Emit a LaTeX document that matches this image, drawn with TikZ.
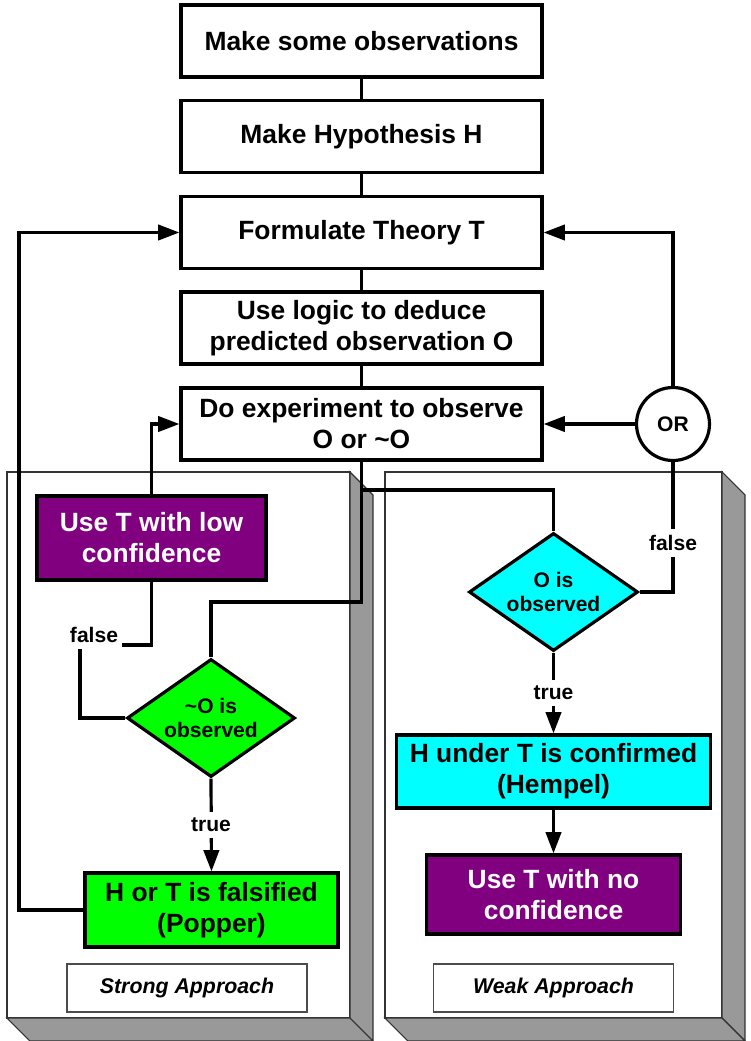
\documentclass[tikz,border=0pt]{standalone}
\usepackage{fontspec}
\setmainfont{Liberation Sans}
\usetikzlibrary{shapes.geometric,arrows.meta}
\definecolor{vio}{HTML}{800080}
\definecolor{aqua}{HTML}{00FFFF}
\definecolor{lime}{HTML}{00FF00}
\definecolor{sidegray}{HTML}{999999}

\begin{document}
\begin{tikzpicture}[x=0.75pt,y=-0.75pt,
  stepbox/.style={draw, line width=2.4pt, rectangle, fill=white, inner sep=0pt, align=center,
    minimum width=270.75pt, minimum height=54pt, font=\fontsize{19.8}{23.3}\selectfont\bfseries},
  decision/.style={draw, line width=2.4pt, diamond, aspect=1.42, inner sep=0pt, align=center,
    minimum width=126pt, minimum height=88.5pt, font=\fontsize{15.8}{18.5}\selectfont\bfseries},
  conn/.style={line width=2.4pt},
  arr/.style={conn, -{Triangle[length=16pt,width=11.5pt]}},
  tag/.style={fill=white, inner xsep=3pt, inner ysep=4.5pt, font=\fontsize{15.8}{18.5}\selectfont\bfseries},
  face/.style={draw=black!80, line width=0.8pt, fill=white},
  sideface/.style={draw=black!80, line width=0.8pt, fill=sidegray},
  caption/.style={draw=black!70, line width=0.8pt, fill=white, inner sep=0pt,
    minimum width=180pt, minimum height=36pt, font=\fontsize{16}{19}\selectfont\bfseries\itshape}
]
\useasboundingbox (0,0) rectangle (750,1041);

% two raised panels
\draw[face] (7,472) rectangle (350,1018);
\draw[sideface] (350,472) -- (373,495) -- (373,1041) -- (350,1018) -- cycle;
\draw[sideface] (7,1018) -- (350,1018) -- (373,1041) -- (30,1041) -- cycle;
\draw[face] (385,472) rectangle (722,1018);
\draw[sideface] (722,472) -- (745,495) -- (745,1041) -- (722,1018) -- cycle;
\draw[sideface] (385,1018) -- (722,1018) -- (745,1041) -- (408,1041) -- cycle;

\node[caption] (strong) at (187,988) {Strong Approach};
\node[caption] (weak) at (553.5,988) {Weak Approach};

% main sequence
\node[stepbox] (obs) at (361.5,41) {Make some observations};
\node[stepbox] (hyp) at (361.5,136.5) {Make Hypothesis H};
\node[stepbox] (theory) at (361.5,232.5) {Formulate Theory T};
\node[stepbox] (logic) at (361.5,328) {Use logic to deduce\\predicted observation O};
\node[stepbox] (exper) at (361.5,424) {Do experiment to observe\\O or \textasciitilde O};

\node[draw, circle, line width=2.4pt, fill=white, minimum size=54.75pt, inner sep=0pt,
  font=\fontsize{15.8}{18.5}\selectfont\bfseries] (or) at (673,424) {OR};

% strong approach
\node[stepbox, fill=vio, text=white, minimum width=171.75pt, minimum height=63pt] (lowconf) at (151.5,538) {Use T with low\\confidence};
\node[decision, fill=lime] (notO) at (211,718) {\textasciitilde O is\\observed};
\node[stepbox, fill=lime, minimum width=189.75pt, minimum height=55.5pt] (falsified) at (211.5,910) {H or T is falsified\\(Popper)};

% weak approach
\node[decision, fill=aqua, minimum width=126.75pt] (Oobs) at (553.5,592) {O is\\observed};
\node[stepbox, fill=aqua, minimum width=235.5pt, minimum height=54.75pt] (confirmed) at (553.5,771.5) {H under T is confirmed\\(Hempel)};
\node[stepbox, fill=vio, text=white, minimum width=190.5pt, minimum height=59.25pt] (noconf) at (553.5,894.5) {Use T with no\\confidence};

% bend points
\coordinate (leftrail) at (19,232.5);
\coordinate (split) at (361.5,602);
\coordinate (branch) at (361.5,490);
\coordinate (fcorner) at (80,645);

% connectors
\draw[conn] (obs) -- (hyp);
\draw[conn] (hyp) -- (theory);
\draw[conn] (theory) -- (logic);
\draw[conn] (logic) -- (exper);
\draw[arr] (falsified.west) -| (leftrail) -- (theory.west);
\draw[arr] (or.north) |- (theory.east);
\draw[arr] (or.west) -- (exper.east);
\draw[conn] (Oobs.east) -| (or.south);
\draw[conn] (exper.south) -- (split) -| (notO.north);
\draw[conn] (branch) -| (Oobs.north);
\draw[arr] (lowconf.north) |- (exper.west);
\draw[conn] (lowconf.south) |- (fcorner) |- (notO.west);
\draw[arr] (notO.south) -- (falsified.north);
\draw[arr] (Oobs.south) -- (confirmed.north);
\draw[arr] (confirmed.south) -- (noconf.north);

% branch labels
\node[tag] (f1) at (94,635) {false};
\node[tag] (f2) at (673,543) {false};
\node[tag] (t1) at (211,825) {true};
\node[tag] (t2) at (553.5,693) {true};
\end{tikzpicture}
\end{document}
